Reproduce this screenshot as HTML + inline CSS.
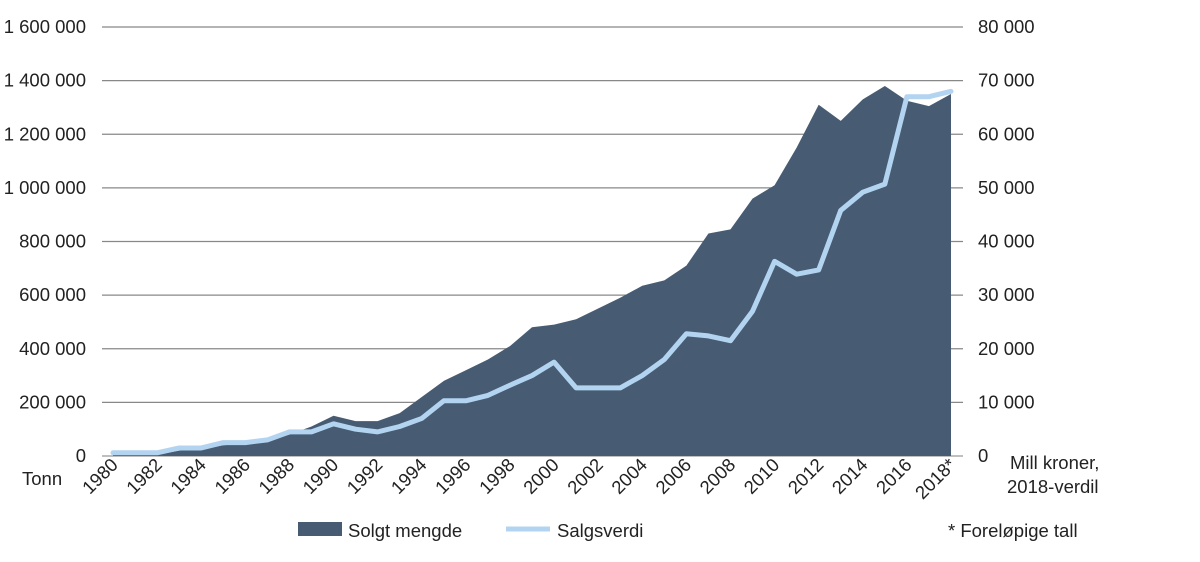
<!DOCTYPE html>
<html><head><meta charset="utf-8"><style>
body{margin:0;background:#fff;}
svg text{font-family:"Liberation Sans",sans-serif;font-size:18.5px;fill:#222;}
</style></head><body>
<svg id="chart" width="1200" height="557" xmlns="http://www.w3.org/2000/svg">
<g id="grid"></g><g id="series"></g><g id="axes"></g>
<g>
<rect x="298" y="522" width="44" height="14" fill="#475b72"/>
<text x="348" y="537">Solgt mengde</text>
<line x1="506" y1="529" x2="550" y2="529" stroke="#b3d4f1" stroke-width="5"/>
<text x="557" y="537">Salgsverdi</text>
</g>
<text x="948" y="537">* Foreløpige tall</text>
<text x="22" y="485">Tonn</text>
<text x="1010" y="469">Mill kroner,</text>
<text x="1007" y="493">2018-verdil</text>
</svg>
<script>
const years = [1980,1981,1982,1983,1984,1985,1986,1987,1988,1989,1990,1991,1992,1993,1994,1995,1996,1997,1998,1999,2000,2001,2002,2003,2004,2005,2006,2007,2008,2009,2010,2011,2012,2013,2014,2015,2016,2017,2018];
const solgtMengde = [5000,5000,5000,20000,25000,40000,45000,55000,80000,110000,150000,130000,130000,160000,220000,280000,320000,360000,410000,480000,490000,510000,550000,590000,635000,655000,710000,830000,845000,960000,1010000,1150000,1310000,1250000,1330000,1380000,1325000,1305000,1350000];
const salgsverdi = [600,600,600,1500,1500,2500,2500,3000,4500,4500,6000,5000,4500,5500,7000,10300,10300,11300,13200,15000,17500,12700,12700,12700,15000,18000,22800,22400,21500,27000,36300,33900,34700,45800,49200,50700,67000,67000,68000];
const leftTicks = [0,200000,400000,600000,800000,1000000,1200000,1400000,1600000];
const leftTickLabels = ["0","200 000","400 000","600 000","800 000","1 000 000","1 200 000","1 400 000","1 600 000"];
const rightTickLabels = ["0","10 000","20 000","30 000","40 000","50 000","60 000","70 000","80 000"];
const xLabels = ["1980","1982","1984","1986","1988","1990","1992","1994","1996","1998","2000","2002","2004","2006","2008","2010","2012","2014","2016","2018*"];

const NS="http://www.w3.org/2000/svg";
const x0=113,x1=951,yB=456,yT=27;
const xs=i=>x0+(x1-x0)*i/(years.length-1);
const yL=v=>yB-(yB-yT)*v/1600000;
const yR=v=>yB-(yB-yT)*v/80000;
function mk(t,a,p){const e=document.createElementNS(NS,t);for(const k in a)e.setAttribute(k,a[k]);p.appendChild(e);return e;}
const grid=document.getElementById('grid'),series=document.getElementById('series'),axes=document.getElementById('axes');
leftTicks.forEach((v,i)=>{
  const l=mk('line',{x1:102,x2:963,y1:yL(v),y2:yL(v),stroke:i==0?'#999':'#888','stroke-width':1.2},grid);
  
  
  const t=mk('text',{x:86,y:yL(v)+6,'text-anchor':'end'},axes);t.textContent=leftTickLabels[i];
  
  
  const r=mk('text',{x:978,y:yL(v)+6},axes);r.textContent=rightTickLabels[i];
  
  
});
let d='M'+xs(0)+','+yB;
solgtMengde.forEach((v,i)=>{d+=' L'+xs(i)+','+yL(v);});
d+=' L'+xs(years.length-1)+','+yB+' Z';
const area=mk('path',{d:d,fill:'#475b72'},series);


const pts=salgsverdi.map((v,i)=>xs(i)+','+yR(v)).join(' ');
const line=mk('polyline',{points:pts,fill:'none',stroke:'#b3d4f1','stroke-width':5,'stroke-linejoin':'round','stroke-linecap':'round'},series);


xLabels.forEach((s,i)=>{
  const x=xs(i*2)+6,y=466;
  const t=mk('text',{x:x,y:y,'text-anchor':'end',transform:'rotate(-45 '+x+' '+y+')'},axes);
  t.textContent=s;
  
  
});
</script>
</body></html>
